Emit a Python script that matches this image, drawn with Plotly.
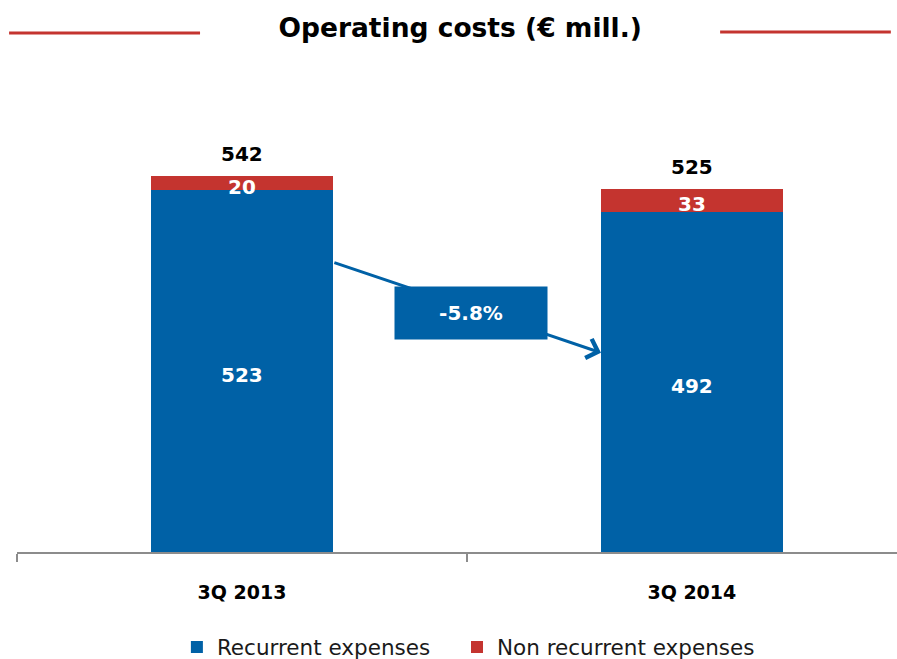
import plotly.graph_objects as go

# data
quarters = ["3Q 2013", "3Q 2014"]
recurrent = [523, 492]
non_recurrent = [20, 33]
totals = [542, 525]
change_label = "-5.8%"

BLUE = "#0061a6"
RED = "#c4342f"
FONT = "DejaVu Sans"

fig = go.Figure()

fig.add_trace(go.Bar(
    x=quarters, y=recurrent, name="Recurrent expenses",
    marker=dict(color=BLUE, line=dict(width=0)),
    width=0.404, legend="legend",
))
fig.add_trace(go.Bar(
    x=quarters, y=non_recurrent, name="Non recurrent expenses",
    marker=dict(color=RED, line=dict(width=0)),
    width=0.404, legend="legend2",
))

annotations = []
# value labels: inside blue, inside red, totals above the bars
for q, r, n, t in zip(quarters, recurrent, non_recurrent, totals):
    annotations.append(dict(
        x=q, y=r / 2, xref="x", yref="y", text=str(r), showarrow=False,
        yshift=-4,
        font=dict(family=FONT, size=20, color="white", weight="bold"),
    ))
    annotations.append(dict(
        x=q, y=r + n / 2, xref="x", yref="y", text=str(n), showarrow=False,
        yshift=-4,
        font=dict(family=FONT, size=20, color="white", weight="bold"),
    ))
    annotations.append(dict(
        x=q, y=r + n, xref="x", yref="y", text=str(t), showarrow=False,
        yanchor="bottom", yshift=8,
        font=dict(family=FONT, size=20, color="black", weight="bold"),
    ))

# arrow between the bars
annotations.append(dict(
    x=0.798, y=288, xref="x", yref="y",
    ax=0.202, ay=419, axref="x", ayref="y",
    text="", showarrow=True, arrowhead=4, arrowsize=1.3,
    arrowwidth=3, arrowcolor=BLUE, standoff=0,
))
annotations.append(dict(
    x=0.508, y=345, xref="x", yref="y", text=change_label, showarrow=False,
    bgcolor=BLUE, width=152, height=52, borderpad=0,
    font=dict(family=FONT, size=20, color="white", weight="bold"),
))

legend_font = dict(family=FONT, size=21.5, color="#1a1a1a")

fig.update_layout(
    barmode="stack",
    width=897, height=659,
    margin=dict(l=17, r=0, t=60, b=107, autoexpand=False),
    paper_bgcolor="white", plot_bgcolor="white",
    title=dict(
        text="<b>Operating costs (€ mill.)</b>",
        x=0.513, xanchor="center", y=0.958, yanchor="middle",
        font=dict(family=FONT, size=26.5, color="black"),
    ),
    xaxis=dict(
        range=[-0.5, 1.456], showgrid=False,
        showline=True, linecolor="#8c8c8c", linewidth=2,
        ticks="outside", tickson="boundaries", ticklen=8,
        tickcolor="#8c8c8c", tickwidth=1.5,
        ticklabelstandoff=22,
        tickfont=dict(family=FONT, size=19, color="black", weight="bold"),
    ),
    yaxis=dict(range=[0, 711], visible=False),
    legend=dict(
        orientation="h", x=0.1817, xanchor="left", y=-0.193, yanchor="middle",
        font=legend_font, itemwidth=30,
    ),
    legend2=dict(
        orientation="h", x=0.5, xanchor="left", y=-0.193, yanchor="middle",
        font=legend_font, itemwidth=30,
    ),
    showlegend=True,
    annotations=annotations,
    shapes=[
        dict(type="line", xref="paper", yref="paper", x0=-0.009, x1=0.208,
             y0=1.055, y1=1.055, line=dict(color=RED, width=3)),
        dict(type="line", xref="paper", yref="paper", x0=0.799, x1=0.993,
             y0=1.057, y1=1.057, line=dict(color=RED, width=3)),
    ],
)

# page without the default body margin, so the figure fills the window
fig.write_html("out.html", config={"displayModeBar": False},
               post_script="document.body.style.margin='0';")
